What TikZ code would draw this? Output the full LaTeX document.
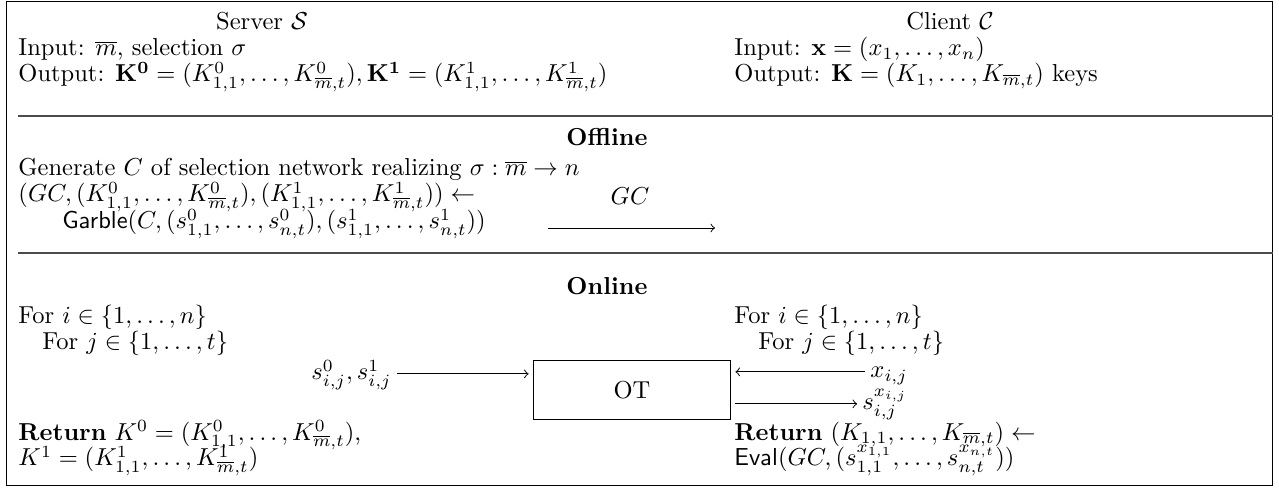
\documentclass[tikz,border=0pt]{standalone}
\usepackage{amsmath,amssymb}
\usetikzlibrary{positioning}

\tikzset{
  txt/.style={anchor=base west, inner sep=0pt},
  ctr/.style={anchor=base, inner sep=0pt},
  rulebar/.style={gray!60!black, line width=1.1pt},
  msg/.style={->, shorten >=2pt, shorten <=2pt},
}

\begin{document}
\begin{tikzpicture}[x=0.408pt,y=-0.408pt]
\useasboundingbox (0,0) rectangle (1279,488);
\draw (6,1.5) rectangle (1272.5,485);
% header
\node[ctr] (srv) at (262,30) {Server $\mathcal{S}$};
\node[ctr] (cli) at (950,30) {Client $\mathcal{C}$};
\node[txt] (sin) at (18,56) {Input: $\overline{m}$, selection $\sigma$};
\node[txt] (sout) at (18,82) {Output: $\mathbf{K^0}=(K^0_{1,1},\dots,K^0_{\overline{m},t}),\mathbf{K^1}=(K^1_{1,1},\dots,K^1_{\overline{m},t})$};
\node[txt] (cin) at (734,56) {Input: $\mathbf{x}=(x_1,\dots,x_n)$};
\node[txt] (cout) at (734,82) {Output: $\mathbf{K}=(K_1,\dots,K_{\overline{m},t})$ keys};
\draw[rulebar] (18,116) -- (1272.5,116);
% offline
\node[ctr] (off) at (607,146) {\textbf{Offline}};
\node[txt] (gen) at (18,176) {Generate $C$ of selection network realizing $\sigma:\overline{m}\rightarrow n$};
\node[txt] (gc) at (18,202) {$(GC,(K^0_{1,1},\dots,K^0_{\overline{m},t}),(K^1_{1,1},\dots,K^1_{\overline{m},t}))\leftarrow$};
\node[txt] (garble) at (62,229) {$\mathsf{Garble}(C,(s^0_{1,1},\dots,s^0_{n,t}),(s^1_{1,1},\dots,s^1_{n,t}))$};
\node[ctr] (gclab) at (630,205) {$GC$};
\coordinate (gcl) at (548,228);
\coordinate (gcr) at (715,228);
\draw[->] (gcl) -- (gcr);
\draw[rulebar] (18,253) -- (1272.5,253);
% online
\node[ctr] (on) at (607,295) {\textbf{Online}};
\node[txt] (fi) at (18,324) {For $i\in\{1,\dots,n\}$};
\node[txt] (fj) at (42,350) {For $j\in\{1,\dots,t\}$};
\node[draw, inner sep=0pt, minimum width=80pt, minimum height=24.4pt] (ot) at (632,390) {OT};
\node[anchor=base east, inner sep=0pt] (sv) at (392,380) {$s^0_{i,j},s^1_{i,j}$};
\draw[msg] ([yshift=2.5pt]sv.base east) -- ([yshift=2.5pt]sv.base east -| ot.west);
\node[txt] (cfi) at (734,324) {For $i\in\{1,\dots,n\}$};
\node[txt] (cfj) at (758,350) {For $j\in\{1,\dots,t\}$};
\node[txt] (xij) at (870,378) {$x_{i,j}$};
\node[txt] (sx) at (862,410) {$s^{x_{i,j}}_{i,j}$};
\draw[msg] ([yshift=2.5pt]xij.base west) -- ([yshift=2.5pt]xij.base west -| ot.east);
\draw[msg] ([yshift=2.5pt]sx.base west -| ot.east) -- ([yshift=2.5pt]sx.base west);
\node[txt] (sret) at (18,440) {\textbf{Return} $K^0=(K^0_{1,1},\dots,K^0_{\overline{m},t})$,};
\node[txt] (sret2) at (18,466) {$K^1=(K^1_{1,1},\dots,K^1_{\overline{m},t})$};
\node[txt] (cret) at (734,440) {\textbf{Return} $(K_{1,1},\dots,K_{\overline{m},t})\leftarrow$};
\node[txt] (ceval) at (734,466) {$\mathsf{Eval}(GC,(s^{x_{1,1}}_{1,1},\dots,s^{x_{n,t}}_{n,t}))$};
\end{tikzpicture}
\end{document}
